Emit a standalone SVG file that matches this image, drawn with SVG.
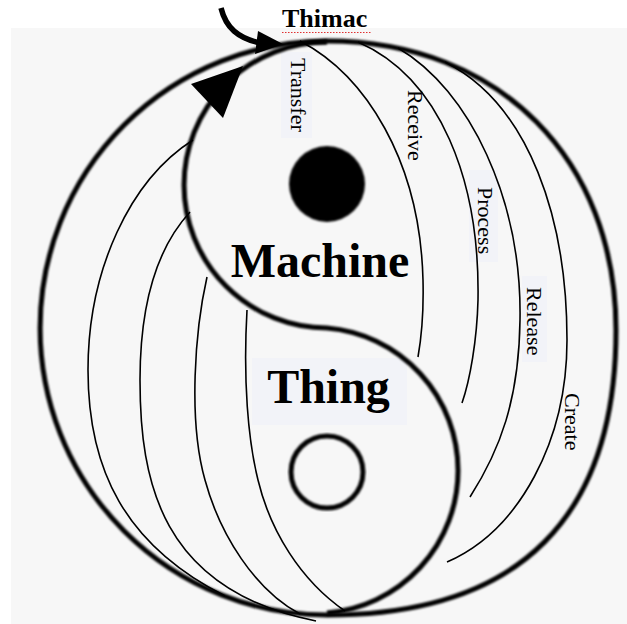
<svg xmlns="http://www.w3.org/2000/svg" width="627" height="624" viewBox="0 0 627 624">
<defs>
<style>
.thick{fill:none;stroke:#000;stroke-width:5;filter:url(#soft)}
.thin{fill:none;stroke:#000;stroke-width:1.6}
.lbl{font-family:"Liberation Serif","Times New Roman",serif;font-size:22px;fill:#000}
.big{font-family:"Liberation Serif","Times New Roman",serif;font-size:48px;font-weight:bold;fill:#000;text-anchor:middle}
.box{fill:#f2f3f8}
</style>
<filter id="soft" x="-5%" y="-5%" width="110%" height="110%"><feGaussianBlur stdDeviation="0.8"/></filter>
</defs>
<rect width="627" height="624" fill="#fff"/>
<rect x="11" y="28" width="616" height="596" fill="#f7f7f7"/>
<g id="label-boxes">
<rect class="box" x="281" y="52" width="31" height="86"/>
<rect class="box" x="469" y="170" width="29" height="92"/>
<rect class="box" x="522" y="276" width="25" height="86"/>
<rect class="box" x="252" y="358" width="155" height="67"/>
</g>
<g id="outer">
<path class="thick" d="M327,41 C500,41 616,160 616,330 C616,515 522,615 327,615 A287,287 0 0 1 327,41 Z"/>
</g>
<g id="connectors">
<path class="thin" d="M300,41 C365,75 420,160 423,280 C424,320 421,340 418,357"/>
<path class="thin" d="M358,42 C440,78 480,180 478,300 C477,340 470,380 462,403"/>
<path class="thin" d="M398,48 C470,90 522,200 520,320 C519,400 500,450 470,497"/>
<path class="thin" d="M445,62 C530,105 567,220 567,340 C567,440 520,530 447,562"/>
<path class="thin" d="M193,140 C130,180 88,270 88,370 C88,470 125,545 225,596"/>
<path class="thin" d="M190,212 C155,250 140,310 140,380 C140,480 160,590 316,621"/>
<path class="thin" d="M207,277 C195,330 188,420 205,480 C220,535 255,590 300,614"/>
<path class="thin" d="M247,310 C243,380 248,440 258,480 C270,530 300,580 345,611"/>
</g>
<g id="yinyang">
<path class="thick" d="M327,42 A143,143 0 0 0 327,328 A143,143 0 0 1 327,613"/>
<polygon points="243,66 191,84 223,118" fill="#000"/>
</g>
<g id="machine-dot">
<circle cx="327" cy="184" r="38" fill="#000" filter="url(#soft)"/>
</g>
<g id="thing-dot">
<circle class="thick" cx="327" cy="472" r="36"/>
</g>
<g id="thimac">
<path d="M221,8 C226,28 238,38 260,43" fill="none" stroke="#000" stroke-width="5.5"/>
<polygon points="283,44 258,31 255,54" fill="#000"/>
<text x="282" y="27" font-family="Liberation Serif, Times New Roman, serif" font-size="26" font-weight="bold">Thimac</text>
<line x1="282" y1="32.5" x2="372" y2="32.5" stroke="#e03030" stroke-width="1.2" stroke-dasharray="1.5,1.5"/>
</g>
<g id="labels">
<text class="lbl" transform="translate(291,58) rotate(90)">Transfer</text>
<text class="lbl" transform="translate(408,90) rotate(90)">Receive</text>
<text class="lbl" transform="translate(478,187) rotate(90)">Process</text>
<text class="lbl" transform="translate(527,287) rotate(90)">Release</text>
<text class="lbl" transform="translate(565,393) rotate(90)">Create</text>
<text class="big" x="320" y="277">Machine</text>
<text class="big" x="328.5" y="403">Thing</text>
</g>
</svg>
